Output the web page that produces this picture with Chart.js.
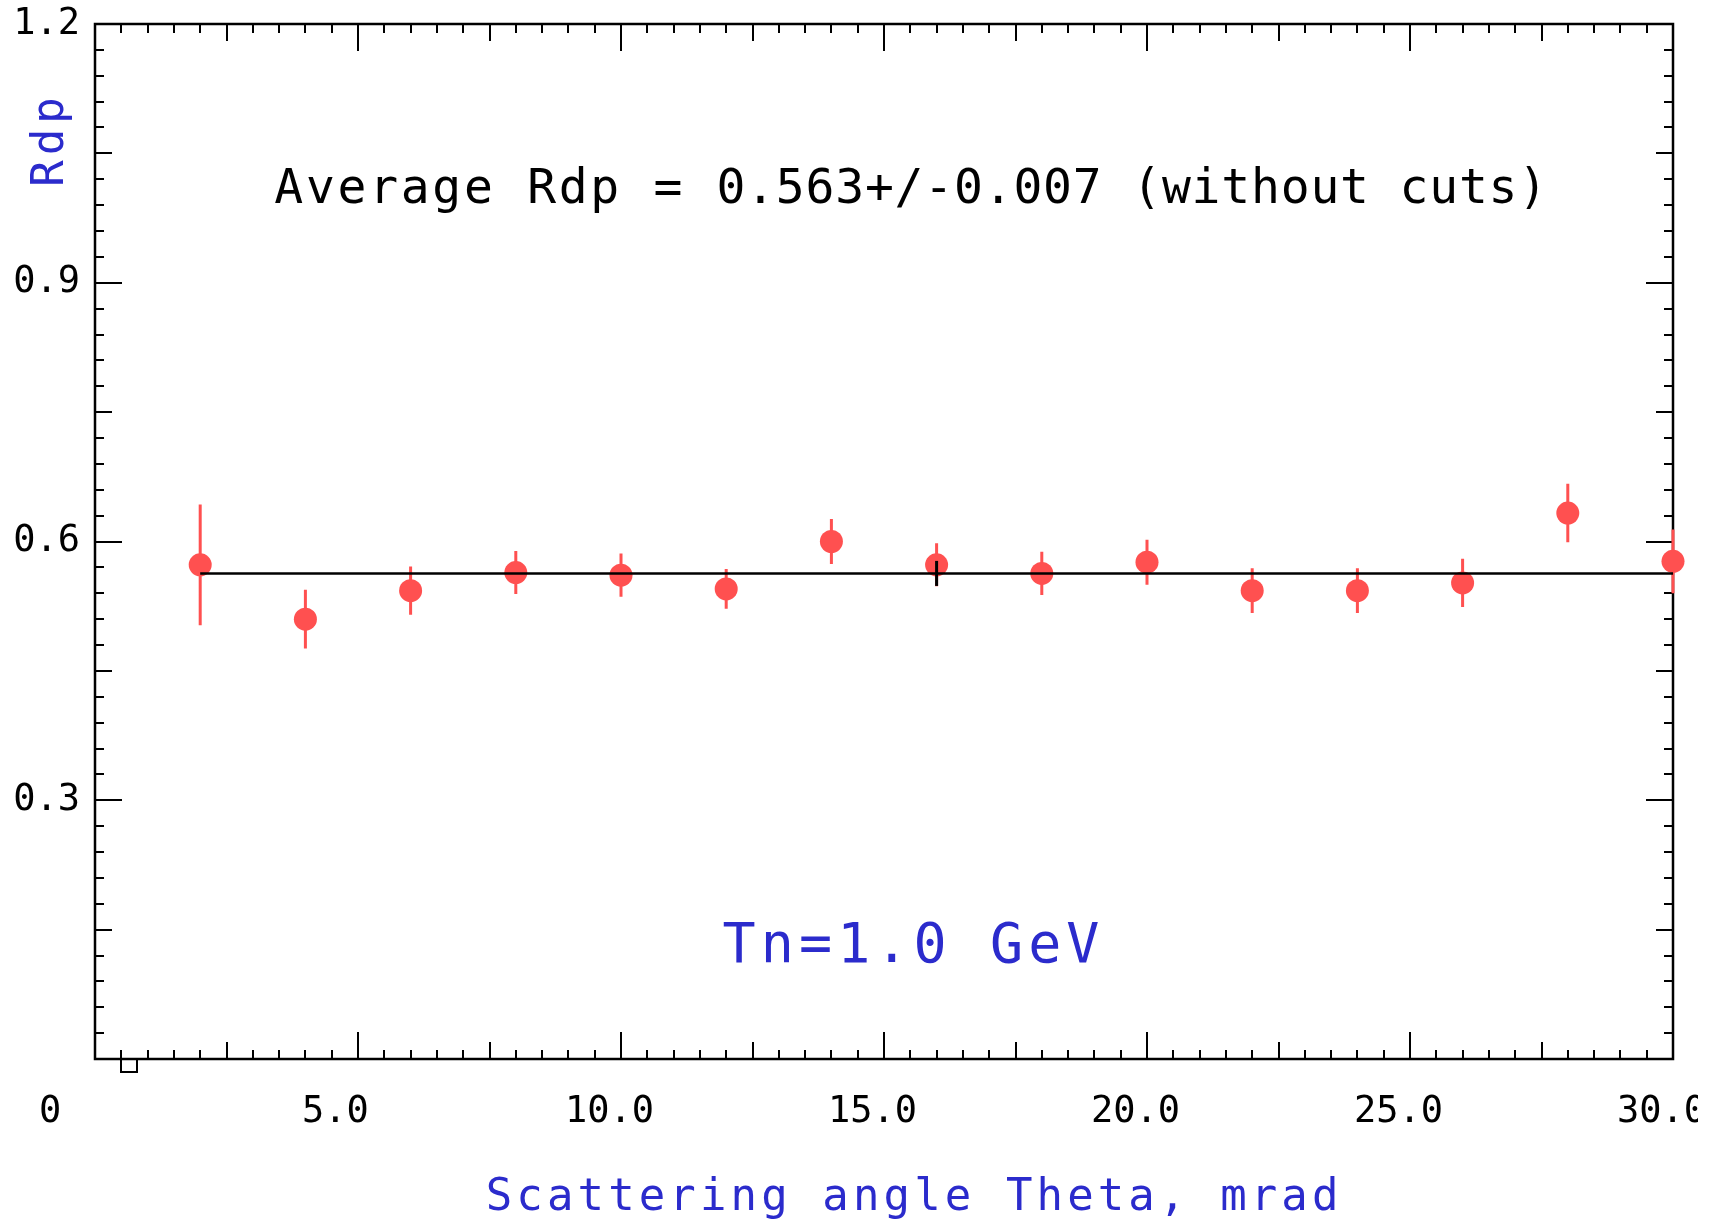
<!DOCTYPE html>
<html>
<head>
<meta charset="utf-8">
<title>Rdp vs scattering angle</title>
<script src="https://cdn.jsdelivr.net/npm/chart.js@4/dist/chart.umd.min.js"></script>
<style>
  html, body { margin: 0; padding: 0; background: #fff; }
  #wrap { width: 1698px; height: 1223px; }
</style>
</head>
<body>
<div id="wrap"><canvas id="rdpChart" width="1698" height="1223"></canvas></div>
<script>
// Rdp per theta bin, Tn = 1.0 GeV
var theta = [2, 4, 6, 8, 10, 12, 14, 16, 18, 20, 22, 24, 26, 28, 30];
var rdp = [0.573, 0.510, 0.543, 0.564, 0.561, 0.545, 0.600, 0.573, 0.563, 0.576, 0.543, 0.543, 0.552, 0.633, 0.577];
var rdpErr = [0.070, 0.034, 0.028, 0.025, 0.025, 0.023, 0.026, 0.025, 0.025, 0.026, 0.026, 0.026, 0.028, 0.034, 0.037];

// constant fit over the whole range
var fitTheta = [2, 30];
var fitRdp = [0.563, 0.563];
var fitErr = 0.007;
var fitMarkTheta = [16];
var fitMarkErr = [0.0145];

var xTicks = [0, 5, 10, 15, 20, 25, 30];
var xTickLabels = ['0', '5.0', '10.0', '15.0', '20.0', '25.0', '30.0'];
var yTicks = [0.3, 0.6, 0.9, 1.2];
var yTickLabels = ['0.3', '0.6', '0.9', '1.2'];

var red = '#ff5050';
var blue = '#2b2bcc';
var mono = '"DejaVu Sans Mono", "Liberation Mono", monospace';

// fixed pitch text, one glyph per cell
function monoText(ctx, str, x0, base, pitch) {
  ctx.textAlign = 'center';
  ctx.textBaseline = 'alphabetic';
  for (var i = 0; i < str.length; i++) {
    ctx.fillText(str[i], x0 + pitch * (i + 0.5), base);
  }
}

// box with inward ticks on all four sides, plus the error bars
var framePlugin = {
  id: 'frame',
  beforeDatasetsDraw: function(chart) {
    var ctx = chart.ctx, a = chart.chartArea;
    var xs = chart.scales.x, ys = chart.scales.y;
    ctx.save();
    ctx.strokeStyle = '#000';
    ctx.lineWidth = 2;
    ctx.beginPath();
    for (var i = 0; i <= 60; i++) {
      var px = Math.round(xs.getPixelForValue(i * 0.5));
      var len = i % 10 === 0 ? 27 : (i % 5 === 0 ? 17 : 9);
      ctx.moveTo(px, a.bottom); ctx.lineTo(px, a.bottom - len);
      ctx.moveTo(px, a.top); ctx.lineTo(px, a.top + len);
    }
    for (var j = 0; j <= 40; j++) {
      var py = Math.round(ys.getPixelForValue(j * 0.03));
      var ylen = j % 10 === 0 ? 27 : (j % 5 === 0 ? 17 : 9);
      ctx.moveTo(a.left, py); ctx.lineTo(a.left + ylen, py);
      ctx.moveTo(a.right, py); ctx.lineTo(a.right - ylen, py);
    }
    // little open box hanging under the first minor tick
    var ux = Math.round(xs.getPixelForValue(0.5));
    ctx.moveTo(ux, a.bottom); ctx.lineTo(ux, a.bottom + 13);
    ctx.lineTo(ux + 16, a.bottom + 13); ctx.lineTo(ux + 16, a.bottom);
    ctx.stroke();

    ctx.lineWidth = 2.5;
    ctx.strokeRect(a.left, a.top, a.right - a.left, a.bottom - a.top);

    // error bars
    ctx.strokeStyle = red;
    ctx.lineWidth = 3;
    ctx.beginPath();
    for (var k = 0; k < theta.length; k++) {
      var ex = xs.getPixelForValue(theta[k]);
      ctx.moveTo(ex, ys.getPixelForValue(rdp[k] + rdpErr[k]));
      ctx.lineTo(ex, ys.getPixelForValue(rdp[k] - rdpErr[k]));
    }
    ctx.stroke();
    ctx.restore();
  },
  afterDatasetsDraw: function(chart) {
    var ctx = chart.ctx, xs = chart.scales.x, ys = chart.scales.y;
    ctx.save();
    ctx.strokeStyle = '#000';
    ctx.lineWidth = 3;
    ctx.beginPath();
    for (var i = 0; i < fitMarkTheta.length; i++) {
      var mx = xs.getPixelForValue(fitMarkTheta[i]);
      ctx.moveTo(mx, ys.getPixelForValue(fitRdp[0] + fitMarkErr[i]));
      ctx.lineTo(mx, ys.getPixelForValue(fitRdp[0] - fitMarkErr[i]));
    }
    ctx.stroke();
    ctx.restore();
  }
};

// axis titles and the two text notes
var notesPlugin = {
  id: 'notes',
  afterDraw: function(chart) {
    var ctx = chart.ctx;
    ctx.save();
    ctx.fillStyle = '#000';
    ctx.font = '48px ' + mono;
    // letters run a bit wider than the digits in this label
    monoText(ctx, 'Average Rdp = ', 273, 203, 31.6);
    monoText(ctx, fitRdp[0].toFixed(3) + '+/-' + fitErr.toFixed(3) + ' (without cuts)', 716, 203, 29.7);

    ctx.fillStyle = blue;
    ctx.font = '55px ' + mono;
    monoText(ctx, 'Tn=1.0 GeV', 720, 962, 38.2);

    ctx.font = '44px ' + mono;
    monoText(ctx, 'Scattering angle Theta, mrad', 483.7, 1210, 30.6);

    ctx.translate(63, 0);
    ctx.rotate(-Math.PI / 2);
    monoText(ctx, 'Rdp', -189.25, 0, 31.5);
    ctx.restore();
  }
};

var ctx = document.getElementById('rdpChart');
var chart = new Chart(ctx, {
  type: 'scatter',
  data: {
    datasets: [{
      type: 'line',
      data: fitTheta.map(function(t, i) { return {x: t, y: fitRdp[i]}; }),
      borderColor: '#000',
      borderWidth: 2.5,
      pointRadius: 0,
      fill: false,
      order: 0
    }, {
      data: theta.map(function(t, i) { return {x: t, y: rdp[i]}; }),
      backgroundColor: red,
      borderWidth: 0,
      pointRadius: 11.5,
      order: 1
    }]
  },
  options: {
    responsive: false,
    devicePixelRatio: 1,
    animation: false,
    events: [],
    clip: false,
    layout: { padding: { left: 0, right: 25, top: 24, bottom: 0 } },
    plugins: {
      legend: { display: false },
      tooltip: { enabled: false }
    },
    scales: {
      x: {
        type: 'linear',
        min: 0,
        max: 30,
        grid: { display: false, drawTicks: false },
        border: { display: false },
        afterBuildTicks: function(scale) {
          scale.ticks = xTicks.map(function(v) { return {value: v}; });
        },
        afterFit: function(scale) {
          scale.height = 164;
          scale.paddingLeft = 0;
          scale.paddingRight = 0;
        },
        ticks: {
          autoSkip: false,
          maxRotation: 0,
          minRotation: 0,
          align: 'start',
          labelOffset: -56,
          padding: 31,
          color: '#000',
          font: { family: mono, size: 37 },
          callback: function(v, i) { return xTickLabels[i]; }
        }
      },
      y: {
        type: 'linear',
        min: 0,
        max: 1.2,
        grid: { display: false, drawTicks: false },
        border: { display: false },
        afterBuildTicks: function(scale) {
          scale.ticks = yTicks.map(function(v) { return {value: v}; });
        },
        afterFit: function(scale) {
          scale.width = 95;
          scale.paddingTop = 0;
          scale.paddingBottom = 0;
        },
        ticks: {
          autoSkip: false,
          padding: 15,
          color: '#000',
          font: { family: mono, size: 37 },
          callback: function(v, i) { return yTickLabels[i]; }
        }
      }
    }
  },
  plugins: [framePlugin, notesPlugin]
});
</script>
</body>
</html>
